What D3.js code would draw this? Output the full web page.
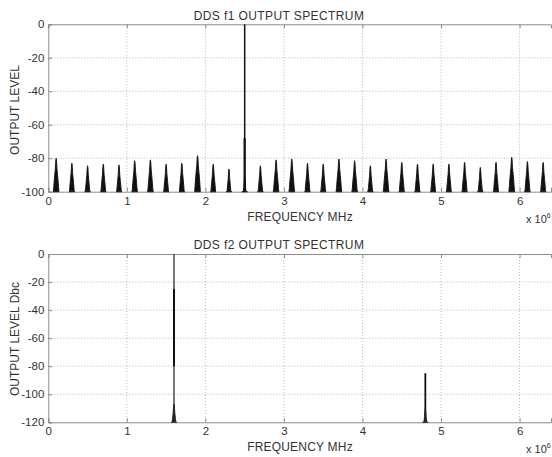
<!DOCTYPE html>
<html lang="en">
<head>
    <meta content="text/html; charset=utf-8" http-equiv="content-type"/>
    <title>DDS output spectrum</title>
    <script src="https://d3js.org/d3.v7.min.js"></script>
    <style>
        body { margin: 0; background: #fff; }
        text { font-family: "Liberation Sans", Arial, sans-serif; fill: #333; }
    </style>
</head>
<body>
<div id="my_dataviz"></div>

<script>

// ---- data (MHz, dB) ----
// f1: carrier plus spurs every 0.2 MHz
var f1Carrier = { freq: 2.5, level: 0, dense: -68, skirt: -91 };
var f1SpurFreq = [0.1, 0.3, 0.5, 0.7, 0.9, 1.1, 1.3, 1.5, 1.7, 1.9, 2.1, 2.3,
                  2.7, 2.9, 3.1, 3.3, 3.5, 3.7, 3.9, 4.1, 4.3, 4.5, 4.7, 4.9,
                  5.1, 5.3, 5.5, 5.7, 5.9, 6.1, 6.3];
var f1SpurLevel = [-80, -83, -84.5, -83.5, -84, -81.5, -81, -83.5, -83, -78.5, -83.5, -86.5,
                   -84.5, -81, -80.5, -83, -83.5, -80.5, -81.5, -84.5, -80.5, -82.5, -83.5, -83.5,
                   -83.5, -82.5, -85.5, -82.5, -79.5, -82, -82.5];

// f2: carrier and one spur
var f2Carrier = { freq: 1.6, level: 0, denseTop: -25, denseBottom: -80, skirt: -107 };
var f2SpurFreq = [4.8];
var f2SpurLevel = [-85];
var f2SpurSkirt = [-110];

// ticks
var xTicks = [0, 1, 2, 3, 4, 5, 6];
var f1YTicks = [0, -20, -40, -60, -80, -100];
var f2YTicks = [0, -20, -40, -60, -80, -100, -120];

// shape of one spur around its peak: [offset MHz, dB below peak]
var spurShape = [[-0.036, -24], [-0.03, -17], [-0.024, -13], [-0.018, -10],
                 [-0.01, -6], [-0.004, -1], [0, 0], [0.004, -1], [0.01, -6],
                 [0.018, -10], [0.024, -13], [0.03, -17], [0.036, -24]];

var W = 552, H = 457;
var svg = d3.select("#my_dataviz")
  .append("svg")
    .attr("width", W)
    .attr("height", H);

var x = d3.scaleLinear().domain([0, 6.4]).range([48.3, 551]);
var fmt = function(d) { return String(d); };   // plain hyphen for negatives

// one panel: box, grid, ticks, labels
function panel(y, yTicks, title, ylabel, titleY, ylabelY, xlabelY) {
  var g = svg.append("g");
  var x0 = x.range()[0], y0 = y.range()[1], y1 = y.range()[0];

  // dotted grid
  g.selectAll(".gx").data(xTicks.slice(1)).enter().append("line")
    .attr("x1", function(d) { return x(d); }).attr("x2", function(d) { return x(d); })
    .attr("y1", y0).attr("y2", y1)
    .attr("stroke", "#b8b8b8").attr("stroke-dasharray", "1,2");
  g.selectAll(".gy").data(yTicks.slice(1, -1)).enter().append("line")
    .attr("x1", x0).attr("x2", W)
    .attr("y1", function(d) { return y(d); }).attr("y2", function(d) { return y(d); })
    .attr("stroke", "#b8b8b8").attr("stroke-dasharray", "1,2");

  // axes, ticks pointing inwards
  var ax = g.append("g")
    .attr("transform", "translate(0," + y1 + ")")
    .call(d3.axisBottom(x).tickValues(xTicks).tickSize(-4).tickPadding(5).tickFormat(fmt));
  var axTop = g.append("g")
    .attr("transform", "translate(0," + y0 + ")")
    .call(d3.axisTop(x).tickValues(xTicks).tickSize(-4).tickFormat(""));
  var ay = g.append("g")
    .attr("transform", "translate(" + x0 + ",0)")
    .call(d3.axisLeft(y).tickValues(yTicks).tickSize(-4).tickPadding(4).tickFormat(fmt));
  [ax, axTop, ay].forEach(function(a) {
    a.select(".domain").attr("stroke", "#8c8c8c");
    a.selectAll(".tick line").attr("stroke", "#8c8c8c");
    a.selectAll("text").style("font-size", "11.5px").attr("fill", "#333");
  });

  g.append("text").attr("x", 279).attr("y", titleY)
    .attr("text-anchor", "middle").style("font-size", "12px").style("letter-spacing", "0.4px")
    .text(title);
  g.append("text").attr("x", 300).attr("y", xlabelY)
    .attr("text-anchor", "middle").style("font-size", "12px").style("letter-spacing", "0.2px")
    .text("FREQUENCY MHz");
  var ex = g.append("text").attr("x", 526).attr("y", xlabelY + 2).style("font-size", "11px");
  ex.append("tspan").text("x 10");
  ex.append("tspan").attr("dy", -5).style("font-size", "7px").text("6");
  g.append("text")
    .attr("transform", "translate(19," + ylabelY + ") rotate(-90)")
    .attr("text-anchor", "middle").style("font-size", "12px")
    .text(ylabel);
  return g;
}

// filled spur around a peak, clipped at the floor
function spur(g, y, floor, f, level, color) {
  var area = d3.area()
    .x(function(d) { return x(f + d[0]); })
    .y0(y(floor))
    .y1(function(d) { return y(Math.max(floor, level + d[1])); });
  g.append("path")
    .datum(spurShape)
    .attr("d", area)
    .attr("fill", color)
    .attr("stroke", color)
    .attr("stroke-width", 0.9);
}

function carrierLine(g, y, f, top, bottom, width, color) {
  g.append("line")
    .attr("x1", x(f)).attr("x2", x(f))
    .attr("y1", y(top)).attr("y2", y(bottom))
    .attr("stroke", color).attr("stroke-width", width);
}

// ---- top panel ----
var y1 = d3.scaleLinear().domain([-100, 0]).range([191.7, 24.3]);
var g1 = panel(y1, f1YTicks, "DDS f1 OUTPUT SPECTRUM", "OUTPUT LEVEL", 20, 110, 221);
f1SpurFreq.forEach(function(f, i) { spur(g1, y1, -100, f, f1SpurLevel[i], "#111"); });
carrierLine(g1, y1, f1Carrier.freq, f1Carrier.level, -100, 1.5, "#111");
carrierLine(g1, y1, f1Carrier.freq, f1Carrier.dense, -100, 2.2, "#111");
spur(g1, y1, -100, f1Carrier.freq, f1Carrier.skirt, "#111");

// ---- bottom panel ----
var y2 = d3.scaleLinear().domain([-120, 0]).range([422.3, 254]);
var g2 = panel(y2, f2YTicks, "DDS f2 OUTPUT SPECTRUM", "OUTPUT LEVEL Dbc", 249, 339, 451);
carrierLine(g2, y2, f2Carrier.freq, f2Carrier.level, -120, 1.6, "#555");
carrierLine(g2, y2, f2Carrier.freq, f2Carrier.denseTop, f2Carrier.denseBottom, 2, "#111");
spur(g2, y2, -120, f2Carrier.freq, f2Carrier.skirt, "#222");
f2SpurFreq.forEach(function(f, i) {
  carrierLine(g2, y2, f, f2SpurLevel[i], -120, 1.8, "#111");
  spur(g2, y2, -120, f, f2SpurSkirt[i], "#222");
});

</script>
</body>
</html>
